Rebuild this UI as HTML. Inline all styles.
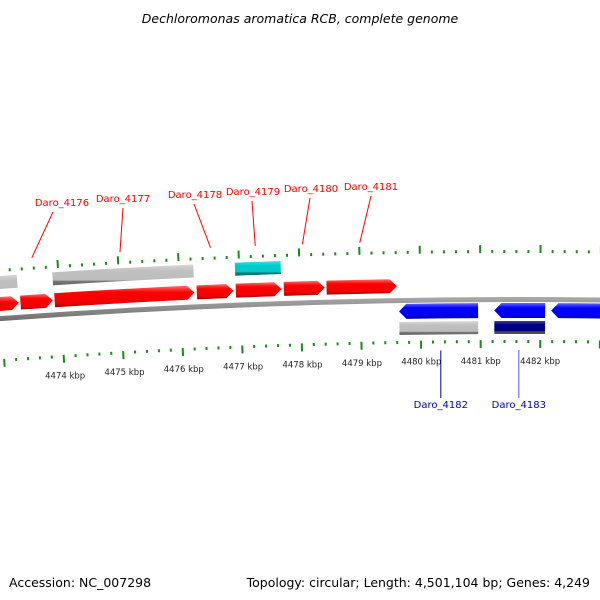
<!DOCTYPE html>
<html><head><meta charset="utf-8"><style>
body{margin:0;background:#fff}
svg{display:block;font-family:"DejaVu Sans","Liberation Sans",sans-serif}
</style></head><body>
<svg id="c" width="600" height="600" viewBox="0 0 600 600">
<defs>
<linearGradient id="gRed" x1="0" y1="0" x2="0" y2="1"><stop offset="0" stop-color="#ff7070"/><stop offset="0.3" stop-color="#ff0000"/><stop offset="0.8" stop-color="#f00000"/><stop offset="1" stop-color="#a00000"/></linearGradient>
<linearGradient id="gBlue" x1="0" y1="0" x2="0" y2="1"><stop offset="0" stop-color="#6a6aff"/><stop offset="0.3" stop-color="#0000ff"/><stop offset="0.8" stop-color="#0000ee"/><stop offset="1" stop-color="#000099"/></linearGradient>
<linearGradient id="gGray" x1="0" y1="0" x2="0" y2="1"><stop offset="0" stop-color="#d8d8d8"/><stop offset="0.3" stop-color="#c0c0c0"/><stop offset="0.75" stop-color="#bcbcbc"/><stop offset="0.8" stop-color="#777"/><stop offset="1" stop-color="#666"/></linearGradient>
<linearGradient id="gCyan" x1="0" y1="0" x2="0" y2="1"><stop offset="0" stop-color="#40e0e0"/><stop offset="0.3" stop-color="#00cccc"/><stop offset="0.75" stop-color="#00c8c8"/><stop offset="0.8" stop-color="#008080"/><stop offset="1" stop-color="#006666"/></linearGradient>
<linearGradient id="gNavy" x1="0" y1="0" x2="0" y2="1"><stop offset="0" stop-color="#4040a0"/><stop offset="0.3" stop-color="#000080"/><stop offset="0.75" stop-color="#00007a"/><stop offset="0.8" stop-color="#444"/><stop offset="1" stop-color="#555"/></linearGradient>
<linearGradient id="gBack" x1="0" y1="0" x2="0" y2="1"><stop offset="0" stop-color="#aaa"/><stop offset="0.5" stop-color="#777"/><stop offset="1" stop-color="#444"/></linearGradient>
</defs>
<text x="300" y="23" text-anchor="middle" font-size="12.5" font-style="italic" fill="#000">Dechloromonas aromatica RCB, complete genome</text>
<text x="9" y="587" font-size="12.5" fill="#000">Accession: NC_007298</text>
<text x="590" y="587" text-anchor="end" font-size="12.5" fill="#000">Topology: circular; Length: 4,501,104 bp; Genes: 4,249</text>
<g id="marks"></g>
</svg>
<script>
// data
const fwdStarts=[4472.0,4473.34,4473.91,4476.28,4476.93,4477.73,4478.44];
const fwdEnds=[4473.31,4473.88,4476.24,4476.89,4477.69,4478.41,4479.61];
const revStarts=[4479.64,4481.23,4482.18];
const revEnds=[4480.96,4482.08,4484.0];
const topFeatStarts=[4472.0,4473.9,4476.93];
const topFeatEnds=[4473.31,4476.24,4477.69];
const topFeatColors=["gGray","gGray","gCyan"];
const botFeatStarts=[4479.64,4481.23];
const botFeatEnds=[4480.96,4482.08];
const botFeatColors=["gGray","gNavy"];
const tickLabels=[4474,4475,4476,4477,4478,4479,4480,4481,4482];
const labelNames=["Daro_4176","Daro_4177","Daro_4178","Daro_4179","Daro_4180","Daro_4181","Daro_4182","Daro_4183"];
const labelPos=[4473.58,4475.04,4476.54,4477.28,4478.06,4479.01,4480.33,4481.64];
const labelStrand=[1,1,1,1,1,1,-1,-1];

const CX=520,CY=7396,P0=4481.66,K=0.00845;
const th=p=>(p-P0)*K;
const pt=(p,r)=>[CX+r*Math.sin(th(p)),CY-r*Math.cos(th(p))];
const NS="http://www.w3.org/2000/svg";
const g=document.getElementById('marks');
function mk(tag,attrs){const e=document.createElementNS(NS,tag);for(const k in attrs)e.setAttribute(k,attrs[k]);g.appendChild(e);return e;}
function arcPath(a,b,r1,r2){const A=pt(a,r2),B=pt(b,r2),C=pt(b,r1),D=pt(a,r1);
 return `M${A} A${r2},${r2} 0 0 1 ${B} L${C} A${r1},${r1} 0 0 0 ${D}Z`;}
function arrow(a,b,r1,r2,dir){const h=0.12;const m=(r1+r2)/2;
 if(dir>0){const e=b-h;const A=pt(a,r2),B=pt(e,r2),T=pt(b,m),C=pt(e,r1),D=pt(a,r1);
  return `M${A} A${r2},${r2} 0 0 1 ${B} L${T} L${C} A${r1},${r1} 0 0 0 ${D}Z`;}
 const s=a+h;const A=pt(s,r2),B=pt(b,r2),C=pt(b,r1),D=pt(s,r1),T=pt(a,m);
 return `M${A} A${r2},${r2} 0 0 1 ${B} L${C} A${r1},${r1} 0 0 0 ${D} L${T}Z`;}

// backbone
let bb=mk('path',{d:arcPath(4470,4484,7094,7099),fill:'url(#gBack)'});



// ticks
for(let i=0;i<=60;i++){const p=4472.6+i*0.2;const major=Math.abs(p-Math.round(p))<0.01;
 const len=major?8:3;
 [[7143,7143+len],[7053-len+3,7056]].forEach(([r1,r2],j)=>{
  const a=pt(p,r1),b=pt(p,r2);
  const t=mk('line',{x1:a[0],y1:a[1],x2:b[0],y2:b[1],stroke:'#1a8a1a','stroke-width':2});
  
  
 });}
tickLabels.forEach(v=>{const q=pt(v,7032);
 const t=mk('text',{x:q[0],y:q[1],'text-anchor':'middle','font-size':8.5,fill:'#222'});
 t.textContent=v+' kbp';
 
 });

// features
topFeatStarts.forEach((s,i)=>{const e=mk('path',{d:arcPath(s,topFeatEnds[i],7126,7139),fill:`url(#${topFeatColors[i]})`});
 
 });
botFeatStarts.forEach((s,i)=>{const e=mk('path',{d:arcPath(s,botFeatEnds[i],7062,7075),fill:`url(#${botFeatColors[i]})`});
 
 });
fwdStarts.forEach((s,i)=>{const e=mk('path',{d:arrow(s,fwdEnds[i],7104,7118,1),fill:'url(#gRed)'});
 
 });
revStarts.forEach((s,i)=>{const e=mk('path',{d:arrow(s,revEnds[i],7078,7093,-1),fill:'url(#gBlue)'});
 
 });

// labels (layout positions of label text)
const fwdText=[[62,202,53],[123,198,123],[195,194,194],[253,191,252],[311,188,310],[371,186,371]];
labelNames.forEach((n,i)=>{let col,lx,ly,a,tx,ty;
 if(labelStrand[i]>0){col='#ff0000';a=pt(labelPos[i],7155);tx=fwdText[i][0];ty=fwdText[i][1];lx=fwdText[i][2];ly=ty+10;}
 else{col=i==6?'#0000aa':'#5555ff';a=pt(labelPos[i],7046);tx=a[0];ty=404;lx=a[0];ly=398;}
 const l=mk('line',{x1:lx,y1:ly,x2:a[0],y2:a[1],stroke:col,'stroke-width':1});
 
 
 const t=mk('text',{x:tx,y:labelStrand[i]>0?ty+4:ty+4,'text-anchor':'middle','font-size':10,fill:labelStrand[i]>0?'#ff0000':'#0000cc'});
 t.textContent=n;
 
 });
</script>
</body></html>
